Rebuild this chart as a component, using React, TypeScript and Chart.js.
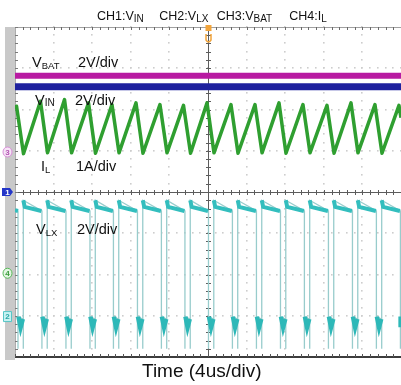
import React, { useEffect, useRef } from "react";
import { Chart, registerables } from "chart.js";

Chart.register(...registerables);

// Horizontal: time in microseconds (4 us/div, 10 divisions). Vertical: screen divisions (8).
const timeRange = [0, 40];
const divRange = [-4, 4];
const xGridTimes = [0, 4, 8, 12, 16, 20, 24, 28, 32, 36, 40];
const yGridDivs = [-4, -3, -2, -1, 0, 1, 2, 3, 4];

// CH3 V_BAT and CH1 V_IN (2V/div), in screen divisions
const vbatTime = [0, 40];
const vbatLevel = [2.82, 2.82];
const vinTime = [0, 40];
const vinLevel = [2.55, 2.55];

// CH4 I_L sawtooth (1A/div)
const ilPeakTime = [0.16, 2.64, 5.13, 7.62, 10.05, 12.54, 15.02, 17.46, 19.9, 22.38, 24.87, 27.36, 29.84, 32.33, 34.82, 37.3, 39.79];
const ilPeakLevel = [2.08, 2.2, 2.24, 2.16, 2.12, 2.16, 2.12, 2.1, 2.16, 2.12, 2.12, 2.16, 2.12, 2.1, 2.16, 2.12, 2.1];
const ilTroughTime = [0.88, 3.37, 5.86, 8.34, 10.78, 13.26, 15.75, 18.19, 20.62, 23.11, 25.6, 28.08, 30.57, 33.06, 35.54, 38.03];
const ilTroughLevel = [0.93, 0.95, 0.95, 0.94, 0.95, 0.94, 0.95, 0.94, 0.95, 0.94, 0.95, 0.94, 0.95, 0.94, 0.95, 0.94];
const ilEndTime = [0, 40];
const ilEndLevel = [2.0, 1.8];

// CH2 V_LX switch node (2V/div)
const vlxFallTime = [0.31, 2.79, 5.28, 7.77, 10.2, 12.69, 15.17, 17.61, 20.05, 22.53, 25.02, 27.51, 29.99, 32.48, 34.97, 37.45, 39.94];
const vlxRiseTime = [0.86, 3.34, 5.83, 8.32, 10.75, 13.24, 15.72, 18.16, 20.6, 23.08, 25.57, 28.06, 30.54, 33.03, 35.52, 38.0];
const vlxHighStart = -0.2;
const vlxHighMid = -0.36;
const vlxHighEnd = -0.46;
const vlxLowStart = -3.02;
const vlxLowDip = -3.28;
const vlxLowEnd = -3.08;
const vlxRing = -3.8;

// channel reference markers on the left edge
const markerNames = ["3", "1", "4", "2"];
const markerLevels = [0.97, 0, -1.97, -3.02];
const triggerTime = [20];

type P = { x: number; y: number | null };
const pts = (xs: number[], ys: number[]): P[] => xs.map((x, i) => ({ x, y: ys[i] }));

function buildIL(): P[] {
  const all: P[] = [
    ...pts(ilEndTime, ilEndLevel),
    ...pts(ilPeakTime, ilPeakLevel),
    ...pts(ilTroughTime, ilTroughLevel),
  ];
  return all.sort((a, b) => a.x - b.x);
}

function buildVlxEdges(): P[] {
  const out: P[] = [{ x: timeRange[0], y: vlxHighEnd + 0.02 }];
  vlxFallTime.forEach((f, i) => {
    out.push({ x: f, y: vlxHighEnd }, { x: f, y: vlxRing }, { x: f, y: vlxLowStart });
    const r = vlxRiseTime[i];
    if (r !== undefined) {
      out.push({ x: r, y: vlxLowEnd }, { x: r, y: vlxRing }, { x: r, y: vlxHighStart });
    } else {
      out.push({ x: timeRange[1], y: vlxLowEnd });
    }
  });
  return out;
}

function buildVlxHigh(): P[] {
  const out: P[] = [
    { x: timeRange[0], y: vlxHighEnd + 0.02 },
    { x: vlxFallTime[0], y: vlxHighEnd },
    { x: vlxFallTime[0], y: null },
  ];
  vlxRiseTime.forEach((r, i) => {
    const f = vlxFallTime[i + 1];
    out.push(
      { x: r, y: vlxHighStart },
      { x: r + 0.15, y: vlxHighMid },
      { x: f - 0.05, y: vlxHighEnd },
      { x: f, y: null }
    );
  });
  return out;
}

function buildVlxLow(): P[] {
  const out: P[] = [];
  vlxFallTime.forEach((f, i) => {
    const r = vlxRiseTime[i] ?? timeRange[1];
    out.push(
      { x: f + 0.05, y: vlxLowStart },
      { x: (f + r) / 2, y: vlxLowDip },
      { x: r - 0.05, y: vlxLowEnd },
      { x: r, y: null }
    );
  });
  return out;
}

const scopeGrid = {
  id: "scopeGrid",
  beforeDatasetsDraw(chart: any) {
    const { ctx, chartArea: a, scales } = chart;
    const xs = scales.x;
    const ys = scales.y;
    const px = (t: number) => xs.getPixelForValue(t);
    const py = (v: number) => ys.getPixelForValue(v);
    ctx.save();
    // grey strip at the left
    ctx.fillStyle = "#c9c9c9";
    ctx.fillRect(5, a.top, a.left - 5, a.bottom - a.top + 3);
    // dotted graticule
    ctx.fillStyle = "#cdcdcd";
    const nSubY = (divRange[1] - divRange[0]) * 5;
    const nSubX = (xGridTimes.length - 1) * 5;
    for (const t of xGridTimes) {
      if (t === 20 || t === timeRange[0] || t === timeRange[1]) continue;
      const x = Math.round(px(t));
      for (let k = 0; k <= nSubY; k++) {
        const y = Math.round(py(divRange[0] + k * 0.2));
        ctx.fillRect(x - 1, y - 1, 1.6, 1.6);
      }
    }
    for (const d of yGridDivs) {
      if (d === 0 || d === divRange[0] || d === divRange[1]) continue;
      const y = Math.round(py(d));
      for (let k = 0; k <= nSubX; k++) {
        const x = Math.round(px(timeRange[0] + k * 0.8));
        ctx.fillRect(x - 1, y - 1, 1.6, 1.6);
      }
    }
    // centre cross with ticks
    const cx = Math.round(px(20)) + 0.5;
    const cy = Math.round(py(0)) + 0.5;
    ctx.strokeStyle = "#5c5c5c";
    ctx.lineWidth = 1;
    ctx.beginPath();
    ctx.moveTo(cx, a.top);
    ctx.lineTo(cx, a.bottom);
    ctx.moveTo(a.left, cy);
    ctx.lineTo(a.right, cy);
    for (let k = 0; k <= nSubY; k++) {
      const y = Math.round(py(divRange[0] + k * 0.2)) + 0.5;
      ctx.moveTo(cx - 2.5, y);
      ctx.lineTo(cx + 2.5, y);
    }
    for (let k = 0; k <= nSubX; k++) {
      const x = Math.round(px(timeRange[0] + k * 0.8)) + 0.5;
      ctx.moveTo(x, cy - 2.5);
      ctx.lineTo(x, cy + 2.5);
    }
    ctx.stroke();
    // top border
    ctx.strokeStyle = "#a0a0a0";
    ctx.beginPath();
    ctx.moveTo(a.left, a.top + 0.5);
    ctx.lineTo(a.right, a.top + 0.5);
    ctx.stroke();
    ctx.strokeStyle = "#6a6a6a";
    ctx.beginPath();
    for (let k = 0; k <= nSubX; k++) {
      const x = Math.round(px(timeRange[0] + k * 0.8)) + 0.5;
      ctx.moveTo(x, a.top);
      ctx.lineTo(x, a.top + 3);
    }
    ctx.stroke();
    // left border
    ctx.strokeStyle = "#acacac";
    ctx.beginPath();
    ctx.moveTo(a.left + 0.5, a.top);
    ctx.lineTo(a.left + 0.5, a.bottom);
    ctx.stroke();
    ctx.strokeStyle = "#7a7a7a";
    ctx.beginPath();
    for (let k = 0; k <= nSubY; k++) {
      const y = Math.round(py(divRange[0] + k * 0.2)) + 0.5;
      ctx.moveTo(a.left, y);
      ctx.lineTo(a.left + 3, y);
    }
    ctx.stroke();
    // bottom border
    ctx.strokeStyle = "#3c3c3c";
    ctx.lineWidth = 2;
    ctx.beginPath();
    ctx.moveTo(a.left, a.bottom);
    ctx.lineTo(a.right, a.bottom);
    ctx.stroke();
    ctx.lineWidth = 1;
    ctx.strokeStyle = "#555";
    ctx.beginPath();
    for (let k = 0; k <= nSubX; k++) {
      const x = Math.round(px(timeRange[0] + k * 0.8)) + 0.5;
      ctx.moveTo(x, a.bottom);
      ctx.lineTo(x, a.bottom - 3);
    }
    ctx.stroke();
    ctx.restore();
  },
  afterDatasetsDraw(chart: any) {
    const { ctx, chartArea: a, scales } = chart;
    const ys = scales.y;
    const xs = scales.x;
    ctx.save();
    ctx.font = "bold 8px 'Liberation Sans', Arial, sans-serif";
    ctx.textAlign = "center";
    ctx.textBaseline = "middle";
    markerNames.forEach((name, i) => {
      const y = ys.getPixelForValue(markerLevels[i]);
      const x = 7.5;
      ctx.lineWidth = 1;
      if (name === "1") {
        ctx.fillStyle = "#2436c8";
        ctx.beginPath();
        ctx.moveTo(2, y - 4);
        ctx.lineTo(10, y - 4);
        ctx.lineTo(13, y);
        ctx.lineTo(10, y + 4);
        ctx.lineTo(2, y + 4);
        ctx.closePath();
        ctx.fill();
        ctx.fillStyle = "#ffffff";
        ctx.fillText(name, x, y + 0.5);
      } else {
        const fill = name === "3" ? "#f6e4f6" : name === "4" ? "#e2f6e2" : "#c6f2f2";
        const stroke = name === "3" ? "#d88ed8" : name === "4" ? "#58b858" : "#55c6c6";
        const txt = name === "3" ? "#b455b4" : name === "4" ? "#3a9a3a" : "#2aa6a6";
        ctx.fillStyle = fill;
        ctx.strokeStyle = stroke;
        ctx.beginPath();
        if (name === "2") {
          ctx.rect(3.5, y - 5, 8, 10);
        } else {
          ctx.ellipse(x, y, 4.5, 5, 0, 0, Math.PI * 2);
        }
        ctx.fill();
        ctx.stroke();
        ctx.fillStyle = txt;
        ctx.fillText(name, x, y + 0.5);
      }
    });
    // trigger marker
    for (const t of triggerTime) {
      const x = Math.round(xs.getPixelForValue(t)) + 0.5;
      ctx.fillStyle = "#f2a43a";
      ctx.fillRect(x - 3, a.top - 2, 6, 6);
      ctx.strokeStyle = "#f2a43a";
      ctx.lineWidth = 1.5;
      ctx.beginPath();
      ctx.moveTo(x - 2.5, a.top + 7);
      ctx.lineTo(x - 2.5, a.top + 13);
      ctx.quadraticCurveTo(x, a.top + 17, x + 2.5, a.top + 13);
      ctx.lineTo(x + 2.5, a.top + 7);
      ctx.stroke();
    }
    ctx.restore();
  },
};

const FONT = "'Liberation Sans', Arial, Helvetica, sans-serif";

function Txt(props: { x: number; b: number; fs: number; children: React.ReactNode }) {
  const { x, b, fs, children } = props;
  return (
    <div
      style={{
        position: "absolute",
        left: x,
        top: b - 0.8465 * fs,
        fontSize: fs,
        lineHeight: fs + "px",
        whiteSpace: "nowrap",
        color: "#111",
        fontFamily: FONT,
      }}
    >
      {children}
    </div>
  );
}

function Sub(props: { fs: number; d: number; children: React.ReactNode }) {
  return <span style={{ fontSize: props.fs, verticalAlign: -props.d, lineHeight: 0 }}>{props.children}</span>;
}

export default function App() {
  const ref = useRef<HTMLCanvasElement>(null);
  useEffect(() => {
    const canvas = ref.current;
    if (!canvas) return;
    const chart = new Chart(canvas, {
      type: "line",
      data: {
        datasets: [
          { label: "V_BAT", data: pts(vbatTime, vbatLevel), borderColor: "#b81aa2", borderWidth: 6, order: 1 },
          { label: "V_IN", data: pts(vinTime, vinLevel), borderColor: "#1f219e", borderWidth: 7, order: 2 },
          { label: "I_L", data: buildIL(), borderColor: "#2f9f30", borderWidth: 3.5, borderJoinStyle: "round", order: 3 },
          { label: "V_LX", data: buildVlxHigh(), borderColor: "#33bebe", borderWidth: 4, spanGaps: false, order: 4 },
          { label: "V_LX low", data: buildVlxLow(), borderColor: "#2db8b8", borderWidth: 4.5, spanGaps: false, order: 5 },
          { label: "V_LX edges", data: buildVlxEdges(), borderColor: "#98cccc", borderWidth: 1.3, order: 6 },
        ] as any,
      },
      options: {
        responsive: false,
        animation: false,
        devicePixelRatio: 1,
        layout: { padding: { left: 15, top: 27, right: 0, bottom: 28 } },
        scales: {
          x: { type: "linear", min: timeRange[0], max: timeRange[1], display: false },
          y: { type: "linear", min: divRange[0], max: divRange[1], display: false },
        },
        plugins: { legend: { display: false }, tooltip: { enabled: false } },
        elements: { point: { radius: 0 }, line: { tension: 0, fill: false } },
      },
      plugins: [scopeGrid],
    });
    return () => chart.destroy();
  }, []);

  return (
    <div
      style={{
        position: "fixed",
        left: 0,
        top: 0,
        width: 401,
        height: 385,
        background: "#fff",
        overflow: "hidden",
      }}
    >
      <canvas ref={ref} width={401} height={385} style={{ position: "absolute", left: 0, top: 0, width: 401, height: 385 }} />
      <Txt x={97} b={20.5} fs={12.5}>CH1:V<Sub fs={10} d={1.5}>IN</Sub></Txt>
      <Txt x={159.3} b={20.5} fs={12.5}>CH2:V<Sub fs={10} d={1.5}>LX</Sub></Txt>
      <Txt x={216.7} b={20.5} fs={12.5}>CH3:V<Sub fs={10} d={1.5}>BAT</Sub></Txt>
      <Txt x={289.3} b={20.5} fs={12.5}>CH4:I<Sub fs={10} d={1.5}>L</Sub></Txt>

      <Txt x={32} b={67} fs={14.5}>V<Sub fs={9.5} d={1.5}>BAT</Sub></Txt>
      <Txt x={78} b={67} fs={14.5}>2V/div</Txt>
      <Txt x={35} b={105.5} fs={14.5}>V<Sub fs={10} d={1}>IN</Sub></Txt>
      <Txt x={75} b={105.5} fs={14.5}>2V/div</Txt>
      <Txt x={41} b={171} fs={14.5}>I<Sub fs={9.5} d={2}>L</Sub></Txt>
      <Txt x={76} b={171} fs={14.5}>1A/div</Txt>
      <Txt x={36} b={234} fs={14.5}>V<Sub fs={9.5} d={1.7}>LX</Sub></Txt>
      <Txt x={77} b={234} fs={14.5}>2V/div</Txt>

      <Txt x={142} b={377} fs={19}>Time (4us/div)</Txt>
    </div>
  );
}
